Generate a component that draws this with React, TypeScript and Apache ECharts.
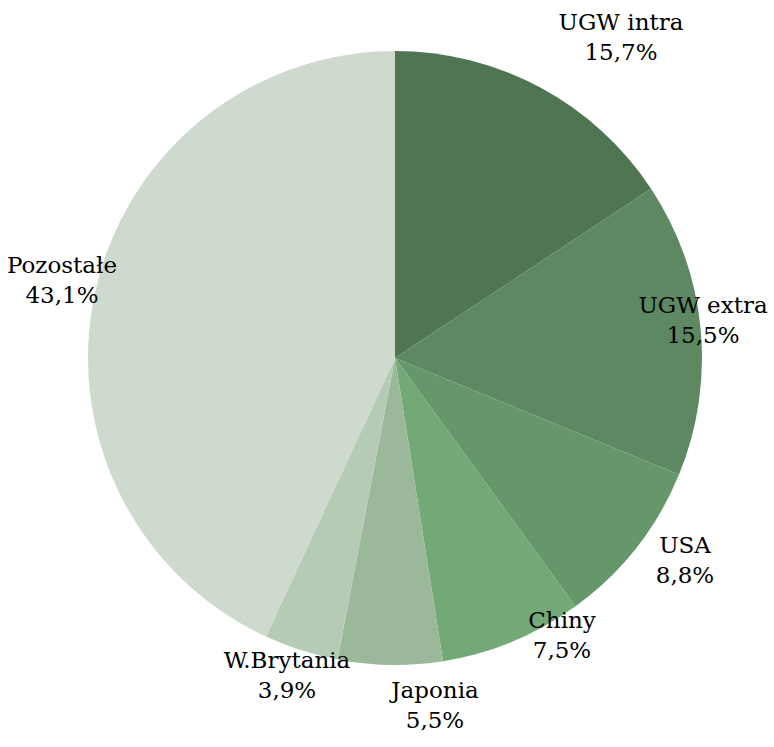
import React, { useEffect, useRef } from "react";
import * as echarts from "echarts";

const categories = ["UGW intra", "UGW extra", "USA", "Chiny", "Japonia", "W.Brytania", "Pozostałe"];
const shares = [15.7, 15.5, 8.8, 7.5, 5.5, 3.9, 43.1];
const colors = ["#4f7553", "#5d8862", "#66976a", "#73a877", "#9bb99a", "#b6cbb5", "#cfdacf"];
// label centre positions (layout only, page coords)
const labelPos: [number, number][] = [
  [621, 37], [703, 320], [685, 560], [562, 635], [435, 705], [287, 675], [62, 280],
];

export default function App() {
  const ref = useRef<HTMLDivElement>(null);
  useEffect(() => {
    if (!ref.current) return;
    const chart = echarts.init(ref.current, null, { renderer: "svg" });
    chart.setOption({
      animation: false,
      backgroundColor: "#ffffff",
      series: [
        {
          type: "pie",
          center: [395, 358],
          radius: [0, 307],
          startAngle: 90,
          clockwise: true,
          avoidLabelOverlap: false,
          data: categories.map((c, i) => ({
            name: c,
            value: shares[i],
            itemStyle: { color: colors[i] },
          })),
          label: {
            show: true,
            position: "outside",
            formatter: (p: any) => `${p.name}\n${shares[p.dataIndex].toFixed(1).replace(".", ",")}%`,
            fontFamily: "DejaVu Serif",
            fontSize: 23,
            lineHeight: 30,
            color: "#000000",
            align: "center",
          },
          labelLine: { show: false },
          labelLayout: (params: any) => {
            const [x, y] = labelPos[params.dataIndex];
            return { x, y, align: "center", verticalAlign: "middle" };
          },
          emphasis: { disabled: true },
        },
      ],
    });
    return () => chart.dispose();
  }, []);
  return (
    <div
      ref={ref}
      style={{ position: "absolute", left: 0, top: 0, width: 774, height: 747 }}
    />
  );
}
